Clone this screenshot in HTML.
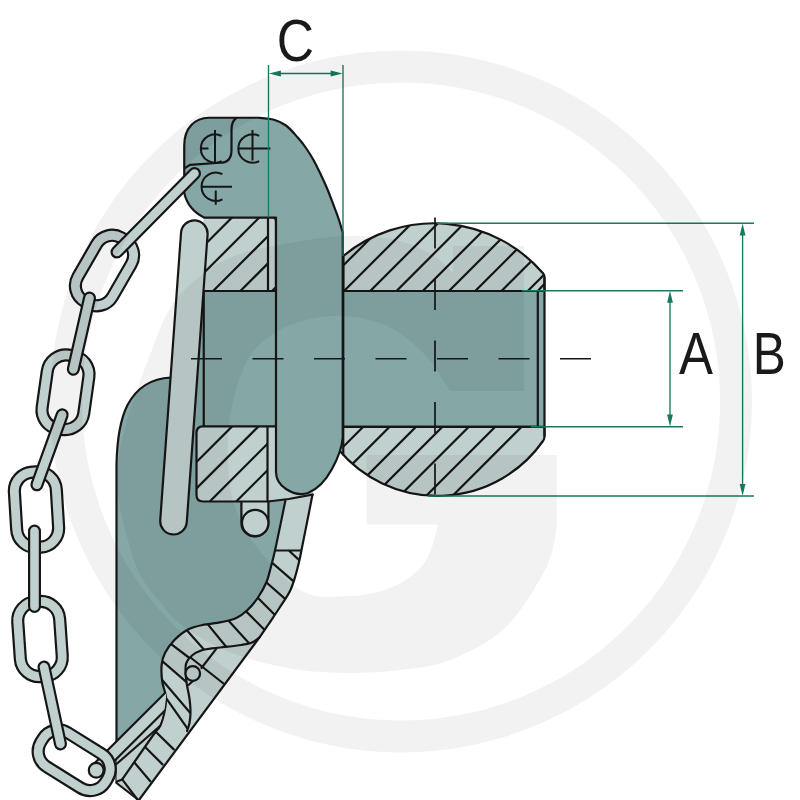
<!DOCTYPE html>
<html lang="en"><head><meta charset="utf-8"><title>Drawing A B C</title>
<style>html,body{margin:0;padding:0;background:#fff;}body{width:800px;height:800px;overflow:hidden;}svg{display:block;}text{font-family:"Liberation Sans",sans-serif;fill:#1a1a1a;}</style></head><body>
<svg width="800" height="800" viewBox="0 0 800 800">
<rect width="800" height="800" fill="#fff"/>
<defs>
<clipPath id="cBallT"><path d="M343.25,291 V256 A143.1,143.1 0 0 1 544.5,275.1 V291 Z"/></clipPath>
<clipPath id="cBallB"><path d="M343.25,426.8 V455.5 A128.9,128.9 0 0 0 543,441 Q544.5,439 544.5,436.5 V426.8 Z"/></clipPath>
<clipPath id="cRingT"><rect x="200" y="217.5" width="68" height="73.5"/></clipPath>
<clipPath id="cRingB"><path d="M203.5,426.3 H279.5 A7,7 0 0 1 286.5,433.3 V494.5 A7,7 0 0 1 279.5,501.5 H203.5 A7,7 0 0 1 196.5,494.5 V433.3 A7,7 0 0 1 203.5,426.3 Z"/></clipPath>
<clipPath id="cRingB2"><rect x="190" y="420" width="77.5" height="90"/></clipPath>
<clipPath id="cRod"><path d="M0,600 H161.8 L161.8,664.4 L162.4,681.5 L166,692 L166,698 L164.5,710 L161,721 L157,726 L150,800 H0 Z"/></clipPath>
</defs>
<path d="M171,377.5 C150,378.5 136,389 127.5,405 C120.5,419 117,438 116.5,465 V742 L166,696 L175,690 L230,640 L270,590 L288,501 L288,430 L204,430 L204,377.5 Z" fill="#85a7a6"/>
<path d="M171,377.5 C150,378.5 136,389 127.5,405 C120.5,419 117,438 116.5,465 V783" fill="none" stroke="#161616" stroke-width="2.2"/>
<path d="M285.3,501 C284.5,504.9 282.2,516.1 280.5,524.4 C278.8,532.6 276.6,543.4 275,550.5 C273.4,557.6 272.3,561.8 270.9,567 C269.5,572.2 268.6,576.9 266.5,582 C264.4,587.1 261.2,592.8 258,597.5 C254.8,602.2 251.1,606.6 247.5,610 C243.9,613.4 240.6,616.0 236.25,618 C231.9,620.0 226.9,621.0 221.25,622.2 C215.6,623.4 208.1,623.8 202.5,625 C196.9,626.2 192.2,627.2 187.5,629.7 C182.8,632.2 178.2,636.1 174.4,640 C170.7,643.9 167.1,648.9 165,653 C162.9,657.1 162.2,659.7 161.7,664.4 C161.2,669.1 161.5,675.9 162.2,681.25 C162.9,686.6 165.3,691.6 165.8,696.25 C166.3,700.9 165.9,704.6 165,709.4 C164.1,714.2 162.3,721.1 160.6,725 C158.9,728.9 155.9,731.2 155,732.5 L116.5,783 L138,799.5 L139,801 L259.7,637.2 C261.1,635.2 264.7,629.9 268,625 C271.3,620.1 275.7,613.7 279.4,608 C283.1,602.3 287.3,596.5 290,591 C292.7,585.5 294.0,580.6 295.6,575.25 C297.2,569.9 298.6,563.8 299.75,558.75 C300.9,553.7 301.1,551.9 302.5,545 C303.9,538.1 306.3,525.9 308,517.5 C309.7,509.1 311.8,498.3 312.5,494.5 L288.75,499 Z" fill="#c0d0ce"/>
<path d="M116.5,743 L163,699 L167,700 L157,733 L116.5,783 Z" fill="#c0d0ce"/>
<clipPath id="cBand"><path d="M285.3,501 C284.5,504.9 282.2,516.1 280.5,524.4 C278.8,532.6 276.6,543.4 275,550.5 C273.4,557.6 272.3,561.8 270.9,567 C269.5,572.2 268.6,576.9 266.5,582 C264.4,587.1 261.2,592.8 258,597.5 C254.8,602.2 251.1,606.6 247.5,610 C243.9,613.4 240.6,616.0 236.25,618 C231.9,620.0 226.9,621.0 221.25,622.2 C215.6,623.4 208.1,623.8 202.5,625 C196.9,626.2 192.2,627.2 187.5,629.7 C182.8,632.2 178.2,636.1 174.4,640 C170.7,643.9 167.1,648.9 165,653 C162.9,657.1 162.2,659.7 161.7,664.4 C161.2,669.1 161.5,675.9 162.2,681.25 C162.9,686.6 165.3,691.6 165.8,696.25 C166.3,700.9 165.9,704.6 165,709.4 C164.1,714.2 162.3,721.1 160.6,725 C158.9,728.9 155.9,731.2 155,732.5 L187,731 C187.4,729.7 188.9,726.2 189.5,723 C190.1,719.8 190.5,716.2 190.5,712 C190.5,707.8 190.0,702.7 189.4,698 C188.8,693.3 187.4,688.3 186.8,684 C186.2,679.7 185.7,675.5 185.6,672 C185.5,668.5 185.2,665.8 186.3,663 C187.4,660.2 189.6,657.6 192,655.5 C194.4,653.4 197.7,651.7 201,650.5 C204.3,649.3 207.5,649.0 212,648.4 C216.5,647.8 223.2,647.3 228,646.7 C232.8,646.1 237.0,645.7 241,645 C245.0,644.3 248.9,643.8 252,642.5 C255.1,641.2 258.4,638.1 259.7,637.2 C261.1,635.2 264.7,629.9 268,625 C271.3,620.1 275.7,613.7 279.4,608 C283.1,602.3 287.3,596.5 290,591 C292.7,585.5 294.0,580.6 295.6,575.25 C297.2,569.9 298.6,563.8 299.75,558.75 C300.9,553.7 301.1,551.9 302.5,545 C303.9,538.1 306.3,525.9 308,517.5 C309.7,509.1 311.8,498.3 312.5,494.5 Z"/></clipPath>
<g fill="none" stroke="#161616" stroke-width="2.2" stroke-linejoin="round" stroke-linecap="round">
<path d="M288.8,550.5 L302.7,563.4 M268.5,559.6 L297.3,584.7 M263.0,579.5 L290.3,603.3 M254.3,594.3 L278.2,618.2 M243.1,608.4 L267.9,633.2 M225.4,617.3 L251.8,646.2 M204.8,620.6 L229.2,650.5 M183.3,626.3 L207.7,653.7 M166.6,640.7 L193.4,661.0 M158.8,658.2 L190.3,685.3 M159.0,676.2 L193.5,716.8 M163.1,693.9 L191.4,734.1 M270,550.5 H305" clip-path="url(#cBand)"/>
<path d="M285.3,501 C284.5,504.9 282.2,516.1 280.5,524.4 C278.8,532.6 276.6,543.4 275,550.5 C273.4,557.6 272.3,561.8 270.9,567 C269.5,572.2 268.6,576.9 266.5,582 C264.4,587.1 261.2,592.8 258,597.5 C254.8,602.2 251.1,606.6 247.5,610 C243.9,613.4 240.6,616.0 236.25,618 C231.9,620.0 226.9,621.0 221.25,622.2 C215.6,623.4 208.1,623.8 202.5,625 C196.9,626.2 192.2,627.2 187.5,629.7 C182.8,632.2 178.2,636.1 174.4,640 C170.7,643.9 167.1,648.9 165,653 C162.9,657.1 162.2,659.7 161.7,664.4 C161.2,669.1 161.5,675.9 162.2,681.25 C162.9,686.6 165.3,691.6 165.8,696.25 C166.3,700.9 165.9,704.6 165,709.4 C164.1,714.2 162.3,721.1 160.6,725 C158.9,728.9 155.9,731.2 155,732.5"/>
<path d="M312.5,494.5 C311.8,498.3 309.7,509.1 308,517.5 C306.3,525.9 303.9,538.1 302.5,545 C301.1,551.9 300.9,553.7 299.75,558.75 C298.6,563.8 297.2,569.9 295.6,575.25 C294.0,580.6 292.7,585.5 290,591 C287.3,596.5 283.1,602.3 279.4,608 C275.7,613.7 271.3,620.1 268,625 C264.7,629.9 261.1,635.2 259.7,637.2 L139,800"/>
<path d="M259.7,637.2 C258.4,638.1 255.1,641.2 252,642.5 C248.9,643.8 245.0,644.3 241,645 C237.0,645.7 232.8,646.1 228,646.7 C223.2,647.3 216.5,647.8 212,648.4 C207.5,649.0 204.3,649.3 201,650.5 C197.7,651.7 194.4,653.4 192,655.5 C189.6,657.6 187.4,660.2 186.3,663 C185.2,665.8 185.5,668.5 185.6,672 C185.7,675.5 186.2,679.7 186.8,684 C187.4,688.3 188.8,693.3 189.4,698 C190.0,702.7 190.5,707.8 190.5,712 C190.5,716.2 190.1,719.8 189.5,723 C188.9,726.2 187.4,729.7 187,731"/>
<path d="M216.6,648.4 L201.5,668"/>
<path d="M190.5,657.5 L223.5,683.5"/>
<path d="M199.5,675 L188.5,685"/>
<path d="M155,732.5 L122.2,779.4"/>
<path d="M116.5,783 L138,799.5"/>
<path d="M122.2,779.4 L117,781.5"/>
<path d="M122.2,779.4 L137,799"/>
<path d="M134.4,762.5 L150.3,781.25"/>
<path d="M145.6,747.5 L162.5,764.4"/>
<path d="M156.5,732.5 L173.75,749.4"/>
<path d="M116.5,764 L160,726"/>
</g>
<circle cx="192.75" cy="673.5" r="7.3" fill="#c0d0ce" stroke="#161616" stroke-width="2.2"/>
<path d="M241.4,498 V523 A13.5,13.5 0 0 0 268.4,523 V498 Z" fill="#c0d0ce" stroke="#161616" stroke-width="2.2"/>
<circle cx="255.2" cy="523" r="13.2" fill="#c0d0ce" stroke="#161616" stroke-width="2.2"/>
<rect x="195" y="291" width="349.5" height="135.6" fill="#85a7a6"/>
<path d="M343.25,291 V256 A143.1,143.1 0 0 1 543,273.3 Q544.5,275 544.5,277.5 V291 Z" fill="#c0d0ce"/>
<path d="M343.25,426.8 L336,440 L338.5,449.5 A128.9,128.9 0 0 0 543,441 Q544.5,439 544.5,436.5 V426.8 Z" fill="#c0d0ce"/>
<path d="M-200,808.75 L1200,-591.25 M-200,835.0 L1200,-565.0 M-200,861.25 L1200,-538.75 M-200,887.5 L1200,-512.5 M-200,913.75 L1200,-486.25 M-200,940.0 L1200,-460.0 M-200,966.25 L1200,-433.75 M-200,992.5 L1200,-407.5 M-200,1018.75 L1200,-381.25" stroke="#161616" stroke-width="2.2" fill="none" clip-path="url(#cBallT)"/>
<path d="M-200,990.0 L1200,-410.0 M-200,1016.4 L1200,-383.6 M-200,1042.8 L1200,-357.20000000000005 M-200,1069.2 L1200,-330.79999999999995 M-200,1095.6 L1200,-304.4 M-200,1122.0 L1200,-278.0 M-200,1148.4 L1200,-251.60000000000002" stroke="#161616" stroke-width="2.2" fill="none" clip-path="url(#cBallB)"/>
<path d="M343.25,291 V256 A143.1,143.1 0 0 1 543,273.3 Q544.5,275 544.5,277.5 V291 Z" fill="none" stroke="#161616" stroke-width="2.2" stroke-linejoin="round"/>
<path d="M343.25,426.8 L336,440 L338.5,449.5 A128.9,128.9 0 0 0 543,441 Q544.5,439 544.5,436.5 V426.8 Z" fill="none" stroke="#161616" stroke-width="2.2" stroke-linejoin="round"/>
<path d="M544.5,277.5 V436.5 M537.8,291 V426.8 M537.8,291 L544.5,283.8" fill="none" stroke="#161616" stroke-width="2.2"/>
<path d="M343.25,256 V455.5" fill="none" stroke="#161616" stroke-width="2.2"/>
<path d="M203.5,217.5 H272 Q276,217.5 276,221.5 V291 H203.5 Z" fill="#c0d0ce"/>
<path d="M-200,649.5 L1200,-750.5 M-200,676.8 L1200,-723.2 M-200,704.1 L1200,-695.9 M-200,731.4 L1200,-668.6 M-200,758.7 L1200,-641.3" stroke="#161616" stroke-width="2.2" fill="none" clip-path="url(#cRingT)"/>
<path d="M203.5,217.5 H272 Q276,217.5 276,221.5 V287 L272,291 H203.75 M268,217.5 V291" fill="none" stroke="#161616" stroke-width="2.2"/>
<path d="M203,426.3 H276 V499 L268,501.5 H203 Q196.5,501.5 196.5,495 V433 Q196.5,426.3 203,426.3 Z" fill="#c0d0ce"/>
<path d="M268,501.5 L288.75,499 L313,494.5 L313,480 L268,480 Z" fill="#c0d0ce"/>
<g clip-path="url(#cRingB)"><path d="M-200,858.5 L1200,-541.5 M-200,884.9 L1200,-515.1 M-200,911.3 L1200,-488.70000000000005 M-200,937.7 L1200,-462.29999999999995" stroke="#161616" stroke-width="2.2" fill="none" clip-path="url(#cRingB2)"/></g>
<path d="M276,426.3 H203 Q196.5,426.3 196.5,433 V495 Q196.5,501.5 203,501.5 H268 L288.75,499 L313.5,494.3 M267.5,426.3 V501.5" fill="none" stroke="#161616" stroke-width="2.2"/>
<path d="M203.75,291 V426.3 M203.75,291 H276 M343.25,291 H537.8 M343.25,426.8 H537.8" fill="none" stroke="#161616" stroke-width="2.2"/>
<path d="M209,117.75 H258 C262.3,118.1 269.7,118.5 274,119.8 C278.3,121.1 282.0,122.5 286,125.5 C290.0,128.4 294.4,133.8 297.75,137.5 C301.1,141.2 303.4,144.2 306,148 C308.6,151.8 311.0,155.5 313.5,160 C316.0,164.5 318.6,170.0 321,175 C323.4,180.0 325.7,185.0 327.75,190 C329.8,195.0 331.6,200.0 333.5,205 C335.4,210.0 337.5,215.4 339,220 C340.5,224.6 342.1,230.4 342.75,232.5 V437.5 C342,448 338,458 332,469 C326,480 318,489 308,493 C300,495.5 292,493 286,489 C280,485 276,480 276,472 V217.5 H204 C195,213 187,205 184.25,193 V145.5 C184.25,128 195,117.75 209,117.75 Z" fill="#85a7a6" stroke="#161616" stroke-width="2.2" stroke-linejoin="round"/>
<path d="M236.5,117.75 C232.5,120.5 231.5,125 231.5,130 V150 C231.5,158.5 228,162.75 220,162.75 L190,164.8 L184.25,168.5" fill="none" stroke="#161616" stroke-width="2.2"/>
<path d="M221.67,135.96 A14.2,14.2 0 1 0 221.67,161.04 M215,130 V163 M200.75,148.5 H208.5 M259.17,135.96 A14.2,14.2 0 1 0 259.17,161.04 M252.5,130 V160.5 M238.3,148.5 H270.5 M222.42,174.21 A14.2,14.2 0 1 0 222.42,199.29 M201.5,186.75 H232 M215.75,190.5 V204.75" fill="none" stroke="#161616" stroke-width="2"/>
<line x1="194.3" y1="233.7" x2="173.5" y2="521.2" stroke="#161616" stroke-width="28.8" stroke-linecap="round"/><line x1="194.3" y1="233.7" x2="173.5" y2="521.2" stroke="#c0d0ce" stroke-width="24.4" stroke-linecap="round"/>
<g clip-path="url(#cRod)"><line x1="96.2" y1="770.3" x2="176" y2="690.8" stroke="#161616" stroke-width="14.6" stroke-linecap="round"/><line x1="96.2" y1="770.3" x2="176" y2="690.8" stroke="#c0d0ce" stroke-width="10.2" stroke-linecap="round"/></g>
<g transform="translate(104.5,270.5) rotate(30)"><path fill-rule="evenodd" fill="#c0d0ce" stroke="#161616" stroke-width="2.2" d="M-2.0,-42.25 H2.0 A23.5,23.5 0 0 1 25.5,-18.75 V18.75 A23.5,23.5 0 0 1 2.0,42.25 H-2.0 A23.5,23.5 0 0 1 -25.5,18.75 V-18.75 A23.5,23.5 0 0 1 -2.0,-42.25 Z M-2.0,-31.25 H2.0 A12.5,12.5 0 0 1 14.5,-18.75 V18.75 A12.5,12.5 0 0 1 2.0,31.25 H-2.0 A12.5,12.5 0 0 1 -14.5,18.75 V-18.75 A12.5,12.5 0 0 1 -2.0,-31.25 Z"/></g>
<g transform="translate(65.5,392.3) rotate(8)"><path fill-rule="evenodd" fill="#c0d0ce" stroke="#161616" stroke-width="2.2" d="M-2.0,-42.75 H2.0 A24.5,24.5 0 0 1 26.5,-18.25 V18.25 A24.5,24.5 0 0 1 2.0,42.75 H-2.0 A24.5,24.5 0 0 1 -26.5,18.25 V-18.25 A24.5,24.5 0 0 1 -2.0,-42.75 Z M-2.0,-31.75 H2.0 A13.5,13.5 0 0 1 15.5,-18.25 V18.25 A13.5,13.5 0 0 1 2.0,31.75 H-2.0 A13.5,13.5 0 0 1 -15.5,18.25 V-18.25 A13.5,13.5 0 0 1 -2.0,-31.75 Z"/></g>
<g transform="translate(36.5,509.6) rotate(-3.5)"><path fill-rule="evenodd" fill="#c0d0ce" stroke="#161616" stroke-width="2.2" d="M-2.0,-43.25 H2.0 A24.5,24.5 0 0 1 26.5,-18.75 V18.75 A24.5,24.5 0 0 1 2.0,43.25 H-2.0 A24.5,24.5 0 0 1 -26.5,18.75 V-18.75 A24.5,24.5 0 0 1 -2.0,-43.25 Z M-2.0,-32.25 H2.0 A13.5,13.5 0 0 1 15.5,-18.75 V18.75 A13.5,13.5 0 0 1 2.0,32.25 H-2.0 A13.5,13.5 0 0 1 -15.5,18.75 V-18.75 A13.5,13.5 0 0 1 -2.0,-32.25 Z"/></g>
<g transform="translate(40,639) rotate(-4)"><path fill-rule="evenodd" fill="#c0d0ce" stroke="#161616" stroke-width="2.2" d="M-2.0,-43.0 H2.0 A24.5,24.5 0 0 1 26.5,-18.5 V18.5 A24.5,24.5 0 0 1 2.0,43.0 H-2.0 A24.5,24.5 0 0 1 -26.5,18.5 V-18.5 A24.5,24.5 0 0 1 -2.0,-43.0 Z M-2.0,-32.0 H2.0 A13.5,13.5 0 0 1 15.5,-18.5 V18.5 A13.5,13.5 0 0 1 2.0,32.0 H-2.0 A13.5,13.5 0 0 1 -15.5,18.5 V-18.5 A13.5,13.5 0 0 1 -2.0,-32.0 Z"/></g>
<g transform="translate(74.2,760.3) rotate(-58)"><path fill-rule="evenodd" fill="#c0d0ce" stroke="#161616" stroke-width="2.2" d="M-2.0,-43.5 H2.0 A23.5,23.5 0 0 1 25.5,-20.0 V20.0 A23.5,23.5 0 0 1 2.0,43.5 H-2.0 A23.5,23.5 0 0 1 -25.5,20.0 V-20.0 A23.5,23.5 0 0 1 -2.0,-43.5 Z M-2.0,-32.5 H2.0 A12.5,12.5 0 0 1 14.5,-20.0 V20.0 A12.5,12.5 0 0 1 2.0,32.5 H-2.0 A12.5,12.5 0 0 1 -14.5,20.0 V-20.0 A12.5,12.5 0 0 1 -2.0,-32.5 Z"/></g>
<line x1="194.5" y1="173.5" x2="117" y2="252" stroke="#161616" stroke-width="13" stroke-linecap="round"/><line x1="194.5" y1="173.5" x2="117" y2="252" stroke="#c0d0ce" stroke-width="8.6" stroke-linecap="round"/>
<line x1="89.5" y1="298" x2="73.3" y2="369.3" stroke="#161616" stroke-width="13" stroke-linecap="round"/><line x1="89.5" y1="298" x2="73.3" y2="369.3" stroke="#c0d0ce" stroke-width="8.6" stroke-linecap="round"/>
<line x1="62.2" y1="414.8" x2="36.9" y2="484.8" stroke="#161616" stroke-width="13" stroke-linecap="round"/><line x1="62.2" y1="414.8" x2="36.9" y2="484.8" stroke="#c0d0ce" stroke-width="8.6" stroke-linecap="round"/>
<line x1="34.5" y1="531" x2="34.5" y2="606.5" stroke="#161616" stroke-width="13" stroke-linecap="round"/><line x1="34.5" y1="531" x2="34.5" y2="606.5" stroke="#c0d0ce" stroke-width="8.6" stroke-linecap="round"/>
<line x1="44" y1="667" x2="60.5" y2="744" stroke="#161616" stroke-width="13" stroke-linecap="round"/><line x1="44" y1="667" x2="60.5" y2="744" stroke="#c0d0ce" stroke-width="8.6" stroke-linecap="round"/>
<circle cx="96.2" cy="770.3" r="7.4" fill="#c0d0ce" stroke="#161616" stroke-width="2.2"/>
<path d="M191.0,358.75 H222.0 M252.5,358.75 H283.5 M314.0,358.75 H345.0 M375.5,358.75 H406.5 M437.0,358.75 H468.0 M498.5,358.75 H529.5 M560.0,358.75 H591.0 M435,217.5 V248.5 M435,279.0 V310.0 M435,340.5 V371.5 M435,402.0 V433.0 M435,463.5 V494.5" fill="none" stroke="#161616" stroke-width="1.7"/>
<g fill="none" stroke="#17795f" stroke-width="1.35">
<path d="M268.5,65 V217.5 M343,65 V256"/>
<path d="M275,73.5 H336"/>
<path d="M437,223.2 H754 M428,496 H754 M522,290.7 H683 M531,426.7 H683"/>
<path d="M670,298 V419 M742.6,230 V488"/>
</g>
<polygon points="268.9,73.5 280.9,70.6 280.9,76.4" fill="#17795f"/>
<polygon points="342.6,73.5 330.6,70.6 330.6,76.4" fill="#17795f"/>
<polygon points="670,290.8 667.1,302.8 672.9,302.8" fill="#17795f"/>
<polygon points="670,426.6 667.1,414.6 672.9,414.6" fill="#17795f"/>
<polygon points="742.6,223.4 739.7,235.4 745.5,235.4" fill="#17795f"/>
<polygon points="742.6,495.9 739.7,483.9 745.5,483.9" fill="#17795f"/>
<text x="295.3" y="61" font-size="60" text-anchor="middle" transform="translate(295.3 0) scale(0.86 1) translate(-295.3 0)">C</text>
<text x="696" y="373.8" font-size="60" text-anchor="middle" transform="translate(696 0) scale(0.85 1) translate(-696 0)">A</text>
<text x="769.2" y="374" font-size="60" text-anchor="middle" transform="translate(769.2 0) scale(0.825 1) translate(-769.2 0)">B</text>
<path fill-rule="evenodd" fill="rgba(0,0,0,0.05)" d="M401,50.5 A351,351 0 1 1 400.9,50.5 Z M401,82.5 A319,319 0 1 0 401.1,82.5 Z"/>
<path fill="rgba(0,0,0,0.05)" d="M557,455 V525 C555.2,532.2 554.7,550.8 546,568 C537.3,585.2 521.0,612.7 505,628 C489.0,643.3 467.5,653.0 450,660 C432.5,667.0 416.7,667.8 400,670 C383.3,672.2 366.7,673.0 350,673 C333.3,673.0 316.7,672.3 300,670 C283.3,667.7 264.7,663.3 250,659 C235.3,654.7 223.8,650.0 212,644 C200.2,638.0 187.3,629.5 179,622.9 C170.7,616.3 168.3,612.3 161.9,604.4 C155.5,596.5 146.1,586.6 140.3,575.6 C134.6,564.6 130.9,550.4 127.4,538.6 C123.9,526.8 121.1,517.3 119.5,505 C117.9,492.7 116.8,479.2 118,465 C119.2,450.8 122.0,437.5 127,420 C132.0,402.5 140.5,379.2 148,360 C155.5,340.8 162.0,320.0 172,305 C182.0,290.0 196.7,278.5 208,270 C219.3,261.5 228.8,258.1 240,254 C251.2,249.9 258.0,248.5 275,245.5 C292.0,242.5 322.0,236.9 342,236 C362.0,235.1 380.2,237.0 395,240 C409.8,243.0 421.3,248.5 431,254 C440.7,259.5 449.3,269.8 453,273 V246 H524 V391 H450 C445.8,385.0 435.8,366.0 425,355 C414.2,344.0 400.5,331.5 385,325 C369.5,318.5 349.5,315.2 332,316 C314.5,316.8 294.5,321.8 280,330 C265.5,338.2 253.7,346.7 245,365 C236.3,383.3 228.8,414.2 228,440 C227.2,465.8 228.5,495.3 240,520 C251.5,544.7 278.7,575.3 297,588 C315.3,600.7 333.7,596.3 350,596 C366.3,595.7 382.5,591.7 395,586 C407.5,580.3 417.8,572.0 425,562 C432.2,552.0 435.8,532.0 438,526 L437.5,524.5 H366.5 V455 Z"/>
</svg></body></html>
